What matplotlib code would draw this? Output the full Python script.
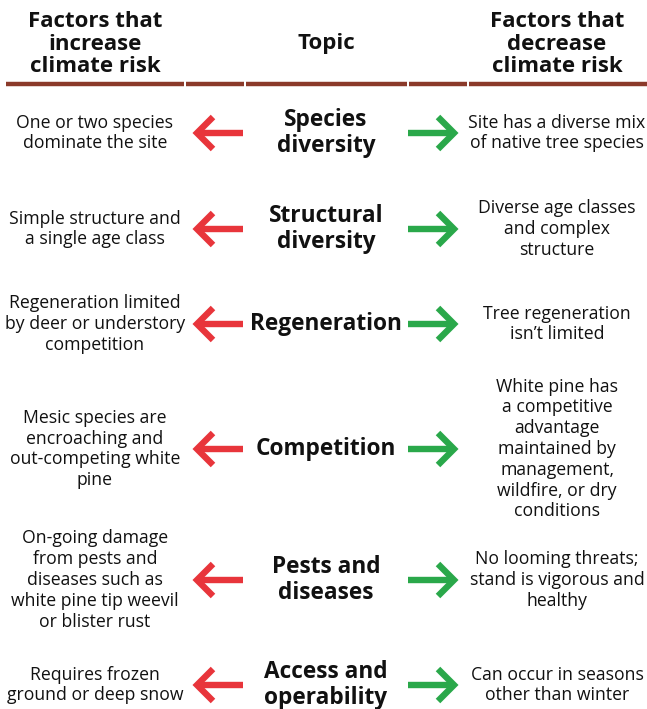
import matplotlib

matplotlib.use("Agg")
import matplotlib.pyplot as plt  # noqa: E402

INK = "#111111"
RED = "#e8353b"
GREEN = "#2aa84a"
RULE = "#8b3a2a"
FONT = ["Open Sans", "DejaVu Sans"]

headers = ["Factors that\nincrease\nclimate risk", "Topic",
           "Factors that\ndecrease\nclimate risk"]
topics = ["Species\ndiversity", "Structural\ndiversity", "Regeneration",
          "Competition", "Pests and\ndiseases", "Access and\noperability"]
increase = [
    "One or two species\ndominate the site",
    "Simple structure and\na single age class",
    "Regeneration limited\nby deer or understory\ncompetition",
    "Mesic species are\nencroaching and\nout-competing white\npine",
    "On-going damage\nfrom pests and\ndiseases such as\nwhite pine tip weevil\nor blister rust",
    "Requires frozen\nground or deep snow",
]
decrease = [
    "Site has a diverse mix\nof native tree species",
    "Diverse age classes\nand complex\nstructure",
    "Tree regeneration\nisn\u2019t limited",
    "White pine has\na competitive\nadvantage\nmaintained by\nmanagement,\nwildfire, or dry\nconditions",
    "No looming threats;\nstand is vigorous and\nhealthy",
    "Can occur in seasons\nother than winter",
]

# layout (pixel units, y downwards)
row_y = [133, 229, 324, 449, 580, 685]
x_left, x_topic, x_right = 95, 326, 557


def arrow(ax, x_tail, x_tip, y, color):
    d = 1 if x_tip > x_tail else -1
    ax.plot([x_tail, x_tip - d * 3], [y, y], color=color, lw=4.6,
            solid_capstyle="butt")
    ax.plot([x_tip - d * 16, x_tip, x_tip - d * 16], [y - 16, y, y + 16],
            color=color, lw=4.6, solid_joinstyle="miter",
            solid_capstyle="butt")


fig = plt.figure(figsize=(6.47, 7.09), dpi=100)
ax = fig.add_axes([0, 0, 1, 1])
ax.set_xlim(0, 647)
ax.set_ylim(709, 0)
ax.axis("off")

# header
for x, h in zip([x_left, x_topic, x_right], headers):
    ax.text(x, 44, h, ha="center", va="center", fontsize=16,
            fontweight="bold", color=INK, family=FONT, linespacing=1.08)

# brown rule, split in segments
for x0, x1 in [(6, 184), (186, 244), (246, 407), (409, 467), (469, 647)]:
    ax.plot([x0, x1], [84, 84], color=RULE, lw=3.2, solid_capstyle="butt")

for y, t, a, b in zip(row_y, topics, increase, decrease):
    ax.text(x_left, y, a, ha="center", va="center", fontsize=12.7, color=INK,
            family=FONT, linespacing=1.2)
    ax.text(x_topic, y, t, ha="center", va="center", fontsize=16.3,
            fontweight="bold", color=INK, family=FONT, linespacing=1.15)
    ax.text(x_right, y, b, ha="center", va="center", fontsize=12.7, color=INK,
            family=FONT, linespacing=1.2)
    arrow(ax, 243, 197, y, RED)
    arrow(ax, 408, 454, y, GREEN)

fig.savefig("out.png", dpi=100, facecolor="white")
